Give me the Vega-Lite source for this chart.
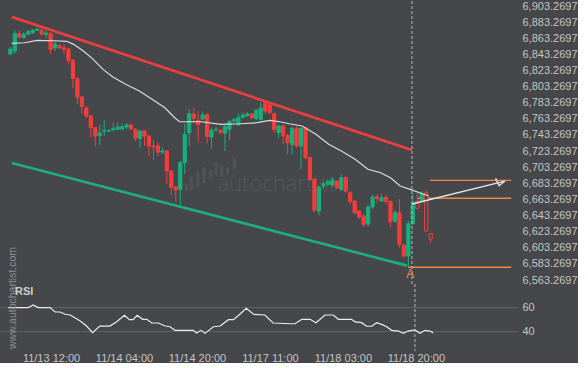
{
  "$schema": "https://vega.github.io/schema/vega-lite/v6.json",
  "background": "#45474a",
  "padding": 0,
  "spacing": 0,
  "bounds": "flush",
  "config": {"view": {"stroke": null}, "font": "Liberation Sans", "axis": {"labelOverlap": false}},
  "datasets": {
    "candles": [
      {"i":-1,"o":6843.7,"h":6852.4,"l":6842.5,"c":6849.9,"k":"up"},
      {"i":0,"o":6847.4,"h":6873.1,"l":6843.7,"c":6868.9,"k":"up"},
      {"i":1,"o":6868.9,"h":6873.1,"l":6863.6,"c":6864.8,"k":"down"},
      {"i":2,"o":6863.9,"h":6871.0,"l":6862.9,"c":6868.2,"k":"up"},
      {"i":3,"o":6868.2,"h":6873.5,"l":6867.3,"c":6871.4,"k":"up"},
      {"i":4,"o":6870.1,"h":6874.7,"l":6869.2,"c":6873.1,"k":"up"},
      {"i":5,"o":6873.1,"h":6876.0,"l":6872.3,"c":6874.7,"k":"up"},
      {"i":6,"o":6873.1,"h":6875.6,"l":6867.3,"c":6868.2,"k":"down"},
      {"i":7,"o":6868.2,"h":6873.1,"l":6863.9,"c":6869.8,"k":"up"},
      {"i":8,"o":6868.9,"h":6871.0,"l":6843.7,"c":6849.5,"k":"down"},
      {"i":9,"o":6851.2,"h":6860.7,"l":6847.4,"c":6856.1,"k":"up"},
      {"i":10,"o":6854.0,"h":6856.1,"l":6849.9,"c":6851.5,"k":"down"},
      {"i":11,"o":6851.5,"h":6856.5,"l":6844.1,"c":6849.5,"k":"down"},
      {"i":12,"o":6849.9,"h":6851.2,"l":6831.3,"c":6835.9,"k":"down"},
      {"i":13,"o":6835.9,"h":6837.5,"l":6801.5,"c":6813.6,"k":"down"},
      {"i":14,"o":6813.1,"h":6815.2,"l":6781.7,"c":6790.4,"k":"down"},
      {"i":15,"o":6790.4,"h":6791.6,"l":6769.3,"c":6778.6,"k":"down"},
      {"i":16,"o":6776.7,"h":6779.2,"l":6764.3,"c":6766.8,"k":"down"},
      {"i":17,"o":6766.8,"h":6768.0,"l":6739.9,"c":6752.3,"k":"down"},
      {"i":18,"o":6752.3,"h":6753.1,"l":6729.6,"c":6742.0,"k":"down"},
      {"i":19,"o":6742.4,"h":6755.6,"l":6730.8,"c":6745.7,"k":"up"},
      {"i":20,"o":6747.8,"h":6761.5,"l":6742.0,"c":6748.6,"k":"up"},
      {"i":21,"o":6747.8,"h":6750.7,"l":6746.9,"c":6748.6,"k":"up"},
      {"i":22,"o":6749.4,"h":6758.5,"l":6748.2,"c":6751.0,"k":"up"},
      {"i":23,"o":6750.3,"h":6758.5,"l":6749.4,"c":6753.1,"k":"up"},
      {"i":24,"o":6750.7,"h":6757.7,"l":6749.1,"c":6753.5,"k":"up"},
      {"i":25,"o":6753.1,"h":6758.1,"l":6750.3,"c":6755.6,"k":"up"},
      {"i":26,"o":6755.6,"h":6757.5,"l":6749.4,"c":6750.7,"k":"down"},
      {"i":27,"o":6750.3,"h":6751.9,"l":6735.8,"c":6739.1,"k":"down"},
      {"i":28,"o":6739.1,"h":6749.4,"l":6727.5,"c":6748.2,"k":"up"},
      {"i":29,"o":6748.2,"h":6749.4,"l":6729.6,"c":6742.0,"k":"down"},
      {"i":30,"o":6742.0,"h":6743.2,"l":6717.2,"c":6729.6,"k":"down"},
      {"i":31,"o":6729.6,"h":6737.0,"l":6712.2,"c":6728.3,"k":"down"},
      {"i":32,"o":6729.6,"h":6734.5,"l":6717.2,"c":6722.1,"k":"down"},
      {"i":33,"o":6722.1,"h":6727.5,"l":6719.3,"c":6723.4,"k":"up"},
      {"i":34,"o":6723.4,"h":6724.6,"l":6682.4,"c":6698.6,"k":"down"},
      {"i":35,"o":6698.6,"h":6699.8,"l":6668.8,"c":6678.1,"k":"down"},
      {"i":36,"o":6678.7,"h":6679.9,"l":6660.1,"c":6675.0,"k":"down"},
      {"i":37,"o":6675.9,"h":6711.0,"l":6653.9,"c":6708.9,"k":"up"},
      {"i":38,"o":6708.9,"h":6756.9,"l":6694.8,"c":6744.1,"k":"up"},
      {"i":39,"o":6746.1,"h":6775.5,"l":6729.6,"c":6769.6,"k":"up"},
      {"i":40,"o":6769.3,"h":6777.1,"l":6758.5,"c":6763.9,"k":"down"},
      {"i":41,"o":6761.5,"h":6773.0,"l":6733.7,"c":6756.2,"k":"down"},
      {"i":42,"o":6763.1,"h":6772.4,"l":6761.8,"c":6768.0,"k":"up"},
      {"i":43,"o":6768.9,"h":6769.9,"l":6732.7,"c":6741.4,"k":"down"},
      {"i":44,"o":6740.7,"h":6752.3,"l":6725.9,"c":6749.1,"k":"up"},
      {"i":45,"o":6749.7,"h":6753.1,"l":6746.9,"c":6750.4,"k":"up"},
      {"i":46,"o":6748.8,"h":6750.7,"l":6744.5,"c":6746.3,"k":"down"},
      {"i":47,"o":6745.7,"h":6755.6,"l":6723.4,"c":6753.8,"k":"up"},
      {"i":48,"o":6750.3,"h":6761.8,"l":6737.0,"c":6760.0,"k":"up"},
      {"i":49,"o":6760.6,"h":6764.3,"l":6758.1,"c":6762.5,"k":"up"},
      {"i":50,"o":6755.9,"h":6769.6,"l":6754.4,"c":6764.7,"k":"up"},
      {"i":51,"o":6765.2,"h":6770.9,"l":6763.7,"c":6768.0,"k":"up"},
      {"i":52,"o":6767.2,"h":6771.4,"l":6765.6,"c":6769.4,"k":"up"},
      {"i":53,"o":6769.3,"h":6770.5,"l":6763.1,"c":6764.7,"k":"down"},
      {"i":54,"o":6763.4,"h":6775.5,"l":6761.8,"c":6773.9,"k":"up"},
      {"i":55,"o":6762.7,"h":6783.3,"l":6761.2,"c":6776.7,"k":"up"},
      {"i":56,"o":6782.1,"h":6785.0,"l":6769.6,"c":6773.0,"k":"down"},
      {"i":57,"o":6781.3,"h":6784.2,"l":6769.3,"c":6770.9,"k":"down"},
      {"i":58,"o":6769.6,"h":6771.1,"l":6746.1,"c":6750.3,"k":"down"},
      {"i":59,"o":6746.1,"h":6756.2,"l":6739.9,"c":6754.4,"k":"up"},
      {"i":60,"o":6754.4,"h":6756.2,"l":6732.1,"c":6742.0,"k":"down"},
      {"i":61,"o":6742.6,"h":6744.5,"l":6719.6,"c":6733.7,"k":"down"},
      {"i":62,"o":6731.7,"h":6753.8,"l":6719.3,"c":6751.5,"k":"up"},
      {"i":63,"o":6751.5,"h":6754.4,"l":6727.7,"c":6729.6,"k":"down"},
      {"i":64,"o":6729.6,"h":6753.1,"l":6700.7,"c":6751.5,"k":"up"},
      {"i":65,"o":6752.3,"h":6753.1,"l":6713.4,"c":6715.1,"k":"down"},
      {"i":66,"o":6715.1,"h":6716.5,"l":6686.1,"c":6688.3,"k":"down"},
      {"i":67,"o":6688.3,"h":6689.9,"l":6647.7,"c":6649.8,"k":"down"},
      {"i":68,"o":6648.9,"h":6680.6,"l":6644.0,"c":6678.7,"k":"up"},
      {"i":69,"o":6679.9,"h":6686.1,"l":6676.2,"c":6682.8,"k":"up"},
      {"i":70,"o":6682.1,"h":6688.0,"l":6679.9,"c":6685.3,"k":"up"},
      {"i":71,"o":6681.2,"h":6691.1,"l":6678.7,"c":6687.0,"k":"up"},
      {"i":72,"o":6686.1,"h":6687.4,"l":6676.2,"c":6677.8,"k":"down"},
      {"i":73,"o":6675.9,"h":6694.5,"l":6673.7,"c":6690.2,"k":"up"},
      {"i":74,"o":6690.2,"h":6692.4,"l":6671.3,"c":6673.7,"k":"down"},
      {"i":75,"o":6671.6,"h":6673.1,"l":6657.2,"c":6661.3,"k":"down"},
      {"i":76,"o":6661.3,"h":6662.6,"l":6645.2,"c":6646.8,"k":"down"},
      {"i":77,"o":6648.9,"h":6650.2,"l":6639.0,"c":6641.5,"k":"down"},
      {"i":78,"o":6642.7,"h":6645.2,"l":6629.1,"c":6632.4,"k":"down"},
      {"i":79,"o":6632.8,"h":6656.4,"l":6630.3,"c":6653.9,"k":"up"},
      {"i":80,"o":6653.9,"h":6668.8,"l":6651.4,"c":6666.3,"k":"up"},
      {"i":81,"o":6666.7,"h":6669.6,"l":6659.2,"c":6664.7,"k":"down"},
      {"i":82,"o":6661.3,"h":6670.4,"l":6660.1,"c":6665.4,"k":"up"},
      {"i":83,"o":6665.7,"h":6668.8,"l":6657.6,"c":6660.7,"k":"down"},
      {"i":84,"o":6660.5,"h":6662.6,"l":6629.1,"c":6635.7,"k":"down"},
      {"i":85,"o":6636.5,"h":6650.2,"l":6634.0,"c":6646.8,"k":"up"},
      {"i":86,"o":6646.8,"h":6663.8,"l":6603.4,"c":6607.6,"k":"down"},
      {"i":87,"o":6606.7,"h":6608.0,"l":6591.0,"c":6593.1,"k":"down"},
      {"i":88,"o":6593.1,"h":6636.5,"l":6579.4,"c":6633.2,"k":"up"},
      {"i":89,"o":6633.2,"h":6669.6,"l":6631.6,"c":6657.2,"k":"up"},
      {"i":90,"o":6661.3,"h":6671.6,"l":6650.8,"c":6652.3,"k":"hollow"},
      {"i":91,"o":6662.2,"h":6673.7,"l":6660.1,"c":6670.4,"k":"up"},
      {"i":92,"o":6671.6,"h":6675.0,"l":6622.9,"c":6624.1,"k":"hollow"},
      {"i":93,"o":6620.8,"h":6621.6,"l":6609.6,"c":6613.8,"k":"hollow"}
    ],
    "ma": [
      {"i":-0.66,"p":6857.0},{"i":2.19,"p":6857.7},{"i":5.04,"p":6860.7},{"i":8.77,"p":6860.2},
      {"i":11.62,"p":6859.5},{"i":13.16,"p":6855.7},{"i":15.35,"p":6847.4},{"i":17.54,"p":6837.1},
      {"i":19.74,"p":6824.7},{"i":21.93,"p":6815.2},{"i":24.78,"p":6806.1},{"i":27.85,"p":6797.8},
      {"i":30.7,"p":6787.5},{"i":33.55,"p":6777.1},{"i":35.75,"p":6764.7},{"i":36.84,"p":6759.7},
      {"i":41.67,"p":6759.7},{"i":46.05,"p":6756.5},{"i":50.44,"p":6757.2},{"i":54.17,"p":6758.5},
      {"i":57.02,"p":6761.5},{"i":59.21,"p":6759.7},{"i":61.4,"p":6757.2},{"i":64.25,"p":6754.4},
      {"i":67.32,"p":6744.1},{"i":70.18,"p":6731.7},{"i":73.03,"p":6723.4},{"i":76.1,"p":6713.1},
      {"i":78.95,"p":6700.7},{"i":81.8,"p":6696.4},{"i":84.0,"p":6690.2},{"i":86.18,"p":6679.9},
      {"i":88.38,"p":6675.8},{"i":90.57,"p":6671.6},{"i":92.54,"p":6667.5}
    ],
    "resistance": [{"i":-0.66,"p":6889.6},{"i":88.8,"p":6724.6}],
    "support": [{"i":-0.66,"p":6708.5},{"i":87.7,"p":6581.2}],
    "levels": [
      {"g":"low","i":87.9,"p":6579.1},{"g":"low","i":111.0,"p":6579.1},
      {"g":"mid","i":90.0,"p":6664.7},{"g":"mid","i":111.0,"p":6664.7},
      {"g":"high","i":92.8,"p":6687.0},{"g":"high","i":111.0,"p":6687.0}
    ],
    "arrow": [
      {"g":"shaft","i":88.8,"p":6657.6},{"g":"shaft","i":109.6,"p":6686.1},
      {"g":"head","i":107.5,"p":6689.5},{"g":"head","i":109.6,"p":6686.1},{"g":"head","i":108.3,"p":6680.3}
    ],
    "cursor": [{"i":88.8}],
    "logo": [
      {"i":38.4,"a":6673.7,"b":6682.4},{"i":39.5,"a":6675.0,"b":6691.1},{"i":40.9,"a":6677.5,"b":6697.3},
      {"i":42.3,"a":6683.7,"b":6703.5},{"i":43.8,"a":6688.6,"b":6699.8},{"i":45.0,"a":6693.6,"b":6708.5},
      {"i":46.3,"a":6691.1,"b":6704.8},{"i":47.6,"a":6694.8,"b":6703.5},{"i":49.1,"a":6701.0,"b":6714.7}
    ],
    "brand": [{"i":45.3,"p":6673.7,"t":"autochartist"}],
    "marker": [{"i":88.4,"p":6571.2,"t":"A"}],
    "rsi": [
      {"i":-0.37,"v":59.7},{"i":4.0,"v":59.7},{"i":5.1,"v":61.9},{"i":6.2,"v":59.7},{"i":8.8,"v":59.7},
      {"i":9.9,"v":56.1},{"i":11.0,"v":56.1},{"i":12.1,"v":54.2},{"i":13.2,"v":53.6},{"i":15.4,"v":48.6},
      {"i":16.8,"v":44.4},{"i":18.1,"v":38.8},{"i":19.7,"v":44.4},{"i":21.9,"v":44.4},{"i":23.4,"v":48.0},
      {"i":25.1,"v":53.3},{"i":26.2,"v":49.7},{"i":27.0,"v":49.7},{"i":27.9,"v":53.3},{"i":29.1,"v":50.0},
      {"i":30.0,"v":50.0},{"i":31.1,"v":46.9},{"i":32.5,"v":46.9},{"i":34.0,"v":44.4},{"i":35.1,"v":43.8},
      {"i":36.2,"v":40.8},{"i":40.2,"v":40.8},{"i":40.9,"v":38.6},{"i":41.9,"v":40.8},{"i":42.8,"v":38.3},
      {"i":44.6,"v":43.8},{"i":46.1,"v":44.4},{"i":47.9,"v":49.7},{"i":49.0,"v":49.7},{"i":50.4,"v":54.2},
      {"i":51.8,"v":59.2},{"i":53.4,"v":54.2},{"i":55.9,"v":53.6},{"i":57.7,"v":46.9},{"i":61.4,"v":46.3},
      {"i":62.5,"v":46.3},{"i":64.0,"v":50.0},{"i":65.8,"v":50.0},{"i":67.1,"v":47.2},{"i":69.1,"v":53.6},
      {"i":70.9,"v":53.6},{"i":72.0,"v":50.0},{"i":74.9,"v":50.0},{"i":75.7,"v":47.8},{"i":77.1,"v":47.2},
      {"i":78.2,"v":44.2},{"i":79.3,"v":44.2},{"i":80.4,"v":47.2},{"i":81.5,"v":45.8},{"i":82.6,"v":43.8},
      {"i":83.7,"v":40.8},{"i":85.2,"v":40.2},{"i":86.2,"v":38.3},{"i":87.3,"v":40.2},{"i":88.8,"v":41.1},
      {"i":89.9,"v":38.3},{"i":91.0,"v":40.8},{"i":92.1,"v":40.2},{"i":92.8,"v":38.6}
    ],
    "rsilabel": [{"i":1.1,"v":72.75,"t":"RSI"}],
    "site": [{"i":0.66,"v":25.25,"t":"www.autochartist.com"}]
  },
  "resolve": {"scale": {"x": "independent", "y": "independent"}},
  "vconcat": [
    {
      "width": 518,
      "height": 283,
      "encoding": {
        "x": {"field": "i", "type": "quantitative", "scale": {"domain": [-2.19, 111.4], "nice": false, "zero": false}, "axis": null}
      },
      "layer": [
        {
          "data": {"name": "logo"},
          "mark": {"type": "bar", "width": 3.2, "color": "#515457"},
          "encoding": {
            "y": {"field": "a", "type": "quantitative", "scale": {"domain": [6558.4, 6909.5], "nice": false, "zero": false},
              "axis": {"orient": "right", "values": [6563.2697,6583.2697,6603.2697,6623.2697,6643.2697,6663.2697,6683.2697,6703.2697,6723.2697,6743.2697,6763.2697,6783.2697,6803.2697,6823.2697,6843.2697,6863.2697,6883.2697,6903.2697],
                "tickCount": 30, "format": ",.4f", "title": null, "grid": false, "ticks": false, "domain": false, "labelColor": "#c4c4c4", "labelFontSize": 11, "labelFont": "Liberation Sans", "labelPadding": 4, "labelBound": false, "labelFlush": false, "labelOverlap": false}},
            "y2": {"field": "b"}
          }
        },
        {
          "data": {"name": "brand"},
          "mark": {"type": "text", "font": "Open Sans", "fontWeight": 300, "fontSize": 22, "color": "#54575a", "align": "left", "baseline": "alphabetic"},
          "encoding": {"y": {"field": "p", "type": "quantitative"}, "text": {"field": "t"}}
        },
        {
          "data": {"name": "support"},
          "mark": {"type": "line", "color": "#1eae80", "strokeWidth": 2.6},
          "encoding": {"y": {"field": "p", "type": "quantitative"}}
        },
        {
          "data": {"name": "resistance"},
          "mark": {"type": "line", "color": "#f23e3e", "strokeWidth": 2.6},
          "encoding": {"y": {"field": "p", "type": "quantitative"}}
        },
        {
          "data": {"name": "levels"},
          "mark": {"type": "line", "color": "#f08544", "strokeWidth": 1.4},
          "encoding": {"y": {"field": "p", "type": "quantitative"}, "detail": {"field": "g"}}
        },
        {
          "data": {"name": "candles"},
          "mark": {"type": "rule", "strokeWidth": 1},
          "encoding": {
            "y": {"field": "l", "type": "quantitative"},
            "y2": {"field": "h"},
            "stroke": {"field": "k", "type": "nominal", "scale": {"domain": ["up", "down", "hollow"], "range": ["#17b07c", "#f73c3c", "#f73c3c"]}, "legend": null}
          }
        },
        {
          "data": {"name": "candles"},
          "mark": {"type": "bar", "width": 3.2, "strokeWidth": 1},
          "encoding": {
            "y": {"field": "o", "type": "quantitative"},
            "y2": {"field": "c"},
            "fill": {"field": "k", "type": "nominal", "scale": {"domain": ["up", "down", "hollow"], "range": ["#17b07c", "#f73c3c", "#45474a"]}, "legend": null},
            "stroke": {"field": "k", "type": "nominal", "legend": null}
          }
        },
        {
          "data": {"name": "ma"},
          "mark": {"type": "line", "color": "#dcdcdc", "strokeWidth": 1.2},
          "encoding": {"y": {"field": "p", "type": "quantitative"}}
        },
        {
          "data": {"name": "arrow"},
          "mark": {"type": "line", "color": "#e6e6e6", "strokeWidth": 1.4},
          "encoding": {"y": {"field": "p", "type": "quantitative"}, "detail": {"field": "g"}, "order": {"field": "i", "type": "quantitative"}}
        },
        {
          "data": {"name": "cursor"},
          "mark": {"type": "rule", "color": "#b8b8b8", "strokeWidth": 1, "strokeDash": [3, 2]},
          "encoding": {}
        },
        {
          "data": {"name": "marker"},
          "mark": {"type": "text", "color": "#f08544", "fontSize": 12, "align": "center", "baseline": "middle"},
          "encoding": {"y": {"field": "p", "type": "quantitative"}, "text": {"field": "t"}}
        }
      ]
    },
    {
      "width": 518,
      "height": 67,
      "encoding": {
        "x": {"field": "i", "type": "quantitative", "scale": {"domain": [-2.19, 111.4], "nice": false, "zero": false},
          "axis": {"orient": "bottom", "values": [9, 25, 41, 57, 73, 89], "tickCount": 20, "title": null, "grid": false, "ticks": false, "domain": false, "labelColor": "#c4c4c4", "labelFontSize": 11, "labelFont": "Liberation Sans", "labelPadding": 1, "labelFlush": false, "labelOverlap": false,
            "labelExpr": "datum.value == 9 ? '11/13 12:00' : datum.value == 25 ? '11/14 04:00' : datum.value == 41 ? '11/14 20:00' : datum.value == 57 ? '11/17 11:00' : datum.value == 73 ? '11/18 03:00' : '11/18 20:00'"}}
      },
      "layer": [
        {
          "data": {"name": "rsi"},
          "mark": {"type": "line", "color": "#ececec", "strokeWidth": 1.2},
          "encoding": {
            "y": {"field": "v", "type": "quantitative", "scale": {"domain": [23.6, 79.4], "nice": false, "zero": false},
              "axis": {"orient": "right", "values": [40, 60], "title": null, "grid": true, "gridColor": "#5f6265", "gridWidth": 1, "ticks": false, "domain": false, "labelColor": "#c4c4c4", "labelFontSize": 11, "labelFont": "Liberation Sans", "labelPadding": 4}}
          }
        },
        {
          "data": {"name": "cursor"},
          "mark": {"type": "rule", "color": "#b8b8b8", "strokeWidth": 1, "strokeDash": [3, 2]},
          "encoding": {}
        },
        {
          "data": {"name": "site"},
          "mark": {"type": "text", "angle": 270, "align": "left", "baseline": "middle", "fontSize": 10.5, "color": "#8c8f92", "font": "Liberation Sans"},
          "encoding": {"y": {"field": "v", "type": "quantitative"}, "text": {"field": "t"}}
        },
        {
          "data": {"name": "rsilabel"},
          "mark": {"type": "text", "align": "left", "baseline": "middle", "fontSize": 11, "fontWeight": "bold", "color": "#cccccc", "font": "Liberation Sans"},
          "encoding": {"y": {"field": "v", "type": "quantitative"}, "text": {"field": "t"}}
        }
      ]
    }
  ]
}
